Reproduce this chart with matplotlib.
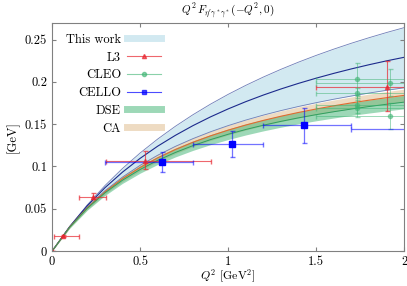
import matplotlib
matplotlib.use('Agg')
import matplotlib.pyplot as plt
from matplotlib.lines import Line2D
import numpy as np

# Q^2 grid for theory curves [GeV^2]
q2 = [0.0, 0.1, 0.2, 0.3, 0.4, 0.5, 0.6, 0.7, 0.8, 0.9, 1.0,
      1.1, 1.2, 1.3, 1.4, 1.5, 1.6, 1.7, 1.8, 1.9, 2.0]

# This work: central value and band edges
tw_mid = [0.0, 0.02897, 0.05362, 0.07485, 0.09333, 0.1096, 0.124, 0.13674, 0.14824, 0.1586, 0.168,
          0.17656, 0.18439, 0.19158, 0.1982, 0.20432, 0.21, 0.21528, 0.2202, 0.22479, 0.229]
tw_up = [0.0, 0.02904, 0.05464, 0.07736, 0.09767, 0.11593, 0.13244, 0.14744, 0.16112, 0.17366, 0.18519,
         0.19582, 0.20566, 0.2148, 0.2233, 0.23123, 0.23864, 0.2456, 0.25212, 0.25827, 0.26405]
tw_lo = [0.0, 0.02868, 0.05197, 0.07125, 0.08748, 0.10133, 0.11329, 0.12372, 0.13289, 0.14102, 0.14829,
         0.15481, 0.1607, 0.16604, 0.17091, 0.17537, 0.17947, 0.18325, 0.18675, 0.18999, 0.193]

# CA band
ca_mid = [0.0, 0.02847, 0.05129, 0.06999, 0.08558, 0.0988, 0.11013, 0.11996, 0.12857, 0.13616, 0.14292,
          0.14897, 0.15442, 0.15934, 0.16383, 0.16792, 0.17167, 0.17513, 0.17832, 0.18127, 0.18401]
ca_up = [0.0, 0.02961, 0.05334, 0.07279, 0.0890, 0.10275, 0.11454, 0.12476, 0.13371, 0.14161, 0.14864,
         0.15493, 0.1606, 0.16571, 0.17038, 0.17464, 0.17854, 0.18214, 0.18545, 0.18852, 0.19137]
ca_lo = [0.0, 0.02733, 0.04924, 0.06719, 0.08216, 0.09485, 0.10572, 0.11516, 0.12343, 0.13071, 0.1372,
         0.14301, 0.14824, 0.15297, 0.15728, 0.1612, 0.1648, 0.16812, 0.17119, 0.17402, 0.17665]

# DSE band
dse_mid = [0.0, 0.02827, 0.05065, 0.0688, 0.08381, 0.09644, 0.10722, 0.11651, 0.12461, 0.13173, 0.13805,
           0.14369, 0.14875, 0.15331, 0.15746, 0.16124, 0.16469, 0.16787, 0.1708, 0.17351, 0.17602]
dse_up = [0.0, 0.02954, 0.05293, 0.0719, 0.08758, 0.10078, 0.11204, 0.12175, 0.13022, 0.13766, 0.14426,
          0.15016, 0.15544, 0.16021, 0.16455, 0.1685, 0.1721, 0.17542, 0.17849, 0.18132, 0.18394]
dse_lo = [0.0, 0.027, 0.04837, 0.0657, 0.08004, 0.0921, 0.1024, 0.11127, 0.119, 0.1258, 0.13184,
          0.13722, 0.14206, 0.14641, 0.15037, 0.15398, 0.15728, 0.16032, 0.16311, 0.1657, 0.1681]

# L3 data
l3_q = [0.0, 0.064, 0.235, 0.528, 1.90]
l3_v = [0.0, 0.0179, 0.0642, 0.107, 0.194]
l3_xlo = [0.0, 0.051, 0.08, 0.223, 0.40]
l3_xhi = [0.0, 0.091, 0.07, 0.375, 0.40]
l3_ylo = [0.0, 0.0015, 0.003, 0.010, 0.029]
l3_yhi = [0.0, 0.0015, 0.004, 0.011, 0.0305]

# CLEO data
cleo_q = [1.73, 1.73, 1.73, 1.73, 1.92, 1.92]
cleo_v = [0.203, 0.187, 0.173, 0.169, 0.199, 0.160]
cleo_xlo = [0.23, 0.23, 0.23, 0.23, 0.42, 0.42]
cleo_xhi = [0.3, 0.3, 0.3, 0.3, 0.3, 0.3]
cleo_ylo = [0.019, 0.006, 0.010, 0.0103, 0.016, 0.0155]
cleo_yhi = [0.0195, 0.006, 0.010, 0.010, 0.016, 0.0155]

# CELLO data
cello_q = [0.623, 1.023, 1.432, 2.25]
cello_v = [0.1056, 0.127, 0.1487, 0.1439]
cello_xlo = [0.322, 0.223, 0.232, 0.55]
cello_xhi = [0.18, 0.177, 0.268, 0.3]
cello_ylo = [0.0119, 0.0161, 0.0207, 0.02]
cello_yhi = [0.012, 0.0153, 0.0208, 0.02]

plt.rcParams['font.family'] = 'serif'
plt.rcParams['font.serif'] = ['cmr10']
plt.rcParams['mathtext.fontset'] = 'cm'
plt.rcParams['axes.formatter.use_mathtext'] = True

blue_band = '#add8e6'
ca_col = '#deb887'
dse_col = '#3cb371'

fig = plt.figure(figsize=(4.07, 2.86), dpi=100)
ax = fig.add_axes([0.128, 0.122, 0.865, 0.799])

#Theory bands
ax.fill_between(q2, tw_lo, tw_up, color=blue_band, alpha=0.55, lw=0)
ax.plot(q2, tw_up, color='#6f7fb8', lw=0.6)
ax.plot(q2, tw_lo, color='#6f7fb8', lw=0.6)
ax.plot(q2, tw_mid, color='#1c2a8c', lw=0.8)

ax.fill_between(q2, ca_lo, ca_up, color=ca_col, alpha=0.5, lw=0)
ax.plot(q2, ca_mid, color='#e06a30', lw=0.8)

ax.fill_between(q2, dse_lo, dse_up, color=dse_col, alpha=0.5, lw=0)
ax.plot(q2, dse_mid, color='#2e9e5e', lw=0.7)

#Experimental points
ax.errorbar(l3_q, l3_v, xerr=[l3_xlo, l3_xhi], yerr=[l3_ylo, l3_yhi], fmt='^',
            color='#e8262f', ms=3, lw=0.8, capsize=1.8, alpha=0.7)
ax.errorbar(cleo_q, cleo_v, xerr=[cleo_xlo, cleo_xhi], yerr=[cleo_ylo, cleo_yhi], fmt='o',
            color=dse_col, ms=3, lw=0.7, capsize=1.8, alpha=0.5)
ax.errorbar(cello_q, cello_v, xerr=[cello_xlo, cello_xhi], yerr=[cello_ylo, cello_yhi], fmt='none',
            ecolor='#0000ff', lw=0.9, capsize=1.8, alpha=0.55)
ax.plot(cello_q, cello_v, 's', color='#0000ff', ms=4)

ax.set_xlim(0, 2)
ax.set_ylim(0, 0.27)
ax.set_xticks([0, 0.5, 1, 1.5, 2])
ax.set_xticklabels(['0', '0.5', '1', '1.5', '2'])
ax.set_yticks([0, 0.05, 0.1, 0.15, 0.2, 0.25])
ax.set_yticklabels(['0', '0.05', '0.1', '0.15', '0.2', '0.25'])
ax.tick_params(direction='in', top=True, right=True, labelsize=9, length=3, color='#808080')
for s in ax.spines.values():
    s.set_color('#808080')

ax.set_title(r'$Q^2\, F_{\eta^\prime\gamma^*\gamma^*}(-Q^2,0)$', fontsize=8, pad=6)
ax.set_xlabel(r'$Q^2$ [GeV$^2$]', fontsize=8.5, labelpad=0)
ax.set_ylabel('[GeV]', fontsize=9, labelpad=4)

#Legend
handles = [
    Line2D([], [], color=blue_band, alpha=0.55, lw=5),
    Line2D([], [], color='#e8262f', marker='^', ms=3, lw=0.8, alpha=0.7),
    Line2D([], [], color=dse_col, marker='o', ms=3, lw=0.8, alpha=0.6),
    Line2D([], [], color='#0000ff', marker='s', ms=3, lw=0.8, alpha=0.7),
    Line2D([], [], color=dse_col, alpha=0.5, lw=5),
    Line2D([], [], color=ca_col, alpha=0.5, lw=5),
]
labels = ['This work', 'L3', 'CLEO', 'CELLO', 'DSE', 'CA']
ax.legend(handles, labels, loc='upper left', frameon=False, markerfirst=False,
          fontsize=9, handlelength=2.7, labelspacing=0.45, handletextpad=0.5,
          borderaxespad=0.3, bbox_to_anchor=(0.015, 0.99))

fig.savefig('out.png', dpi=100)
